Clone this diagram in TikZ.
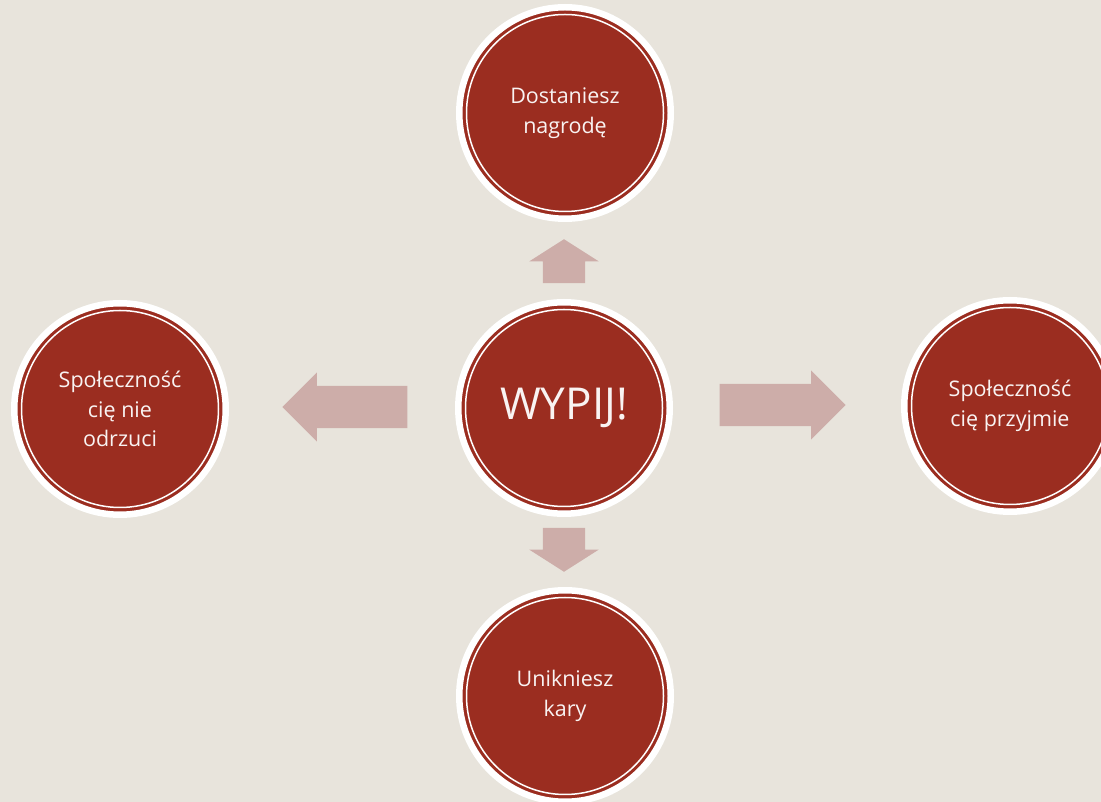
\documentclass[tikz,border=0pt]{standalone}
\usepackage{fontspec}
\setmainfont{Open Sans}
\usetikzlibrary{shapes.arrows}
\definecolor{bgbeige}{HTML}{E8E4DC}
\definecolor{circred}{HTML}{9B2D20}
\definecolor{arrowpink}{HTML}{CDADA9}
\begin{document}
\begin{tikzpicture}[line join=bevel,
  bubble/.style={circle,fill=circred,draw=white,line width=6.5bp,minimum size=211.5bp,inner sep=0pt,
    text=white!94!circred,align=center,font=\fontsize{21.5bp}{29.5bp}\selectfont,
    path picture={\draw [white,line width=1.5bp] (path picture bounding box.center) circle (98.5bp);}},
  blockarrow/.style={single arrow,fill=arrowpink,draw=none,inner sep=0pt,inner ysep=21bp,minimum width=69bp,
    single arrow head extend=13.5bp,anchor=tip},
]
%%
\fill [bgbeige] (0bp,0bp) rectangle (1101bp,802bp);
\useasboundingbox (0bp,0bp) rectangle (1101bp,802bp);
%
\node (node_0) at (564bp,394bp) [bubble,font=\fontsize{44bp}{50bp}\selectfont] {WYPIJ!};
  \node (node_1) at (565bp,689bp) [bubble] {Dostaniesz\\nagrodę};
  \node (node_2) at (120bp,393bp) [bubble] {Społeczność\\cię nie\\odrzuci};
  \node (node_3) at (1010bp,396bp) [bubble] {Społeczność\\cię przyjmie};
  \node (node_4) at (565bp,106bp) [bubble] {Unikniesz\\kary};
%
  \node (arrow_1) at (564bp,563bp) [blockarrow,rotate=90,minimum height=44bp,single arrow tip angle=115] {};
  \node (arrow_2) at (282bp,395bp) [blockarrow,rotate=180,minimum height=125bp,single arrow tip angle=90] {};
  \node (arrow_3) at (846bp,397bp) [blockarrow,minimum height=126bp,single arrow tip angle=90] {};
  \node (arrow_4) at (564bp,230bp) [blockarrow,rotate=-90,minimum height=44bp,single arrow tip angle=115] {};
%
\end{tikzpicture}
\end{document}
